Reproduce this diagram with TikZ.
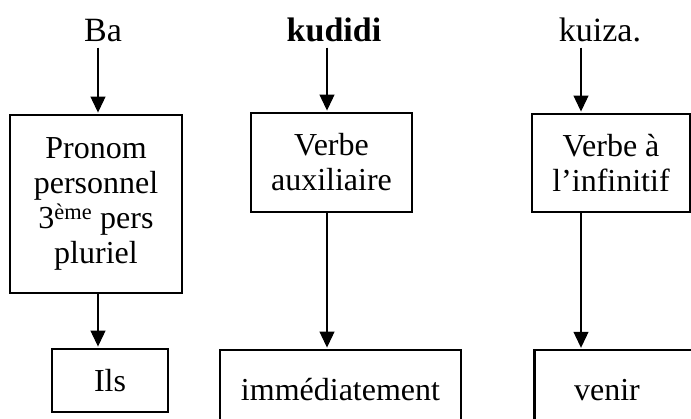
\documentclass[tikz,border=0pt]{standalone}
\usepackage{fontspec}
\setmainfont{Liberation Serif}
\usetikzlibrary{arrows.meta}
\begin{document}
\begin{tikzpicture}[x=1pt,y=-1pt,
  box/.style={draw, line width=2.5pt, inner sep=0pt, align=center,
    font=\fontsize{32}{35}\selectfont},
  txt/.style={inner sep=0pt, font=\fontsize{32}{35}\selectfont},
  head/.style={inner sep=0pt, anchor=base, font=\fontsize{34}{38}\selectfont},
  arr/.style={line width=1.1pt, -{Triangle[length=16pt,width=15pt]}, shorten >=1.2pt}]
\useasboundingbox (0,0) rectangle (691,419);
\clip (0,0) rectangle (691,419);
% headers
\node[head] (ba) at (103,42) {Ba};
\node[head] (kudidi) at (334,42) {\bfseries kudidi};
\node[head] (kuiza) at (600,42) {kuiza.};
% middle boxes
\node[box, minimum width=172, minimum height=178] (pronom) at (96,204)
  {Pronom\\personnel\\3\textsuperscript{ème} pers\\pluriel};
\node[box, minimum width=161, minimum height=99] (aux) at (331.5,162.5)
  {Verbe\\auxiliaire};
\node[box, minimum width=158, minimum height=98] (inf) at (611,163)
  {Verbe à\\l’infinitif};
% bottom boxes
\node[box, minimum width=116, minimum height=63] (ils) at (110,380.5) {Ils};
\node[box, minimum width=241, minimum height=80] (imm) at (340.5,390) {immédiatement};
\node[box, minimum width=227, minimum height=80, anchor=north west] (venirbox) at (533,349) {};
\node[txt, anchor=base] (venir) at (607,401) {venir};
% arrows
\draw[arr] ([xshift=-5pt,yshift=-5pt]ba.south) -- ([xshift=-5pt]ba.south |- pronom.north);
\draw[arr] ([xshift=2pt]pronom.south) -- ([xshift=2pt]pronom.south |- ils.north);
\draw[arr] ([xshift=-7pt,yshift=-5pt]kudidi.south) -- ([xshift=-7pt]kudidi.south |- aux.north);
\draw[arr] ([xshift=-4.5pt]aux.south) -- ([xshift=-4.5pt]aux.south |- imm.north);
\draw[arr] ([xshift=-19pt,yshift=-5pt]kuiza.south) -- ([xshift=-19pt]kuiza.south |- inf.north);
\draw[arr] ([xshift=-30pt]inf.south) -- ([xshift=-30pt]inf.south |- venirbox.north);
\end{tikzpicture}
\end{document}
